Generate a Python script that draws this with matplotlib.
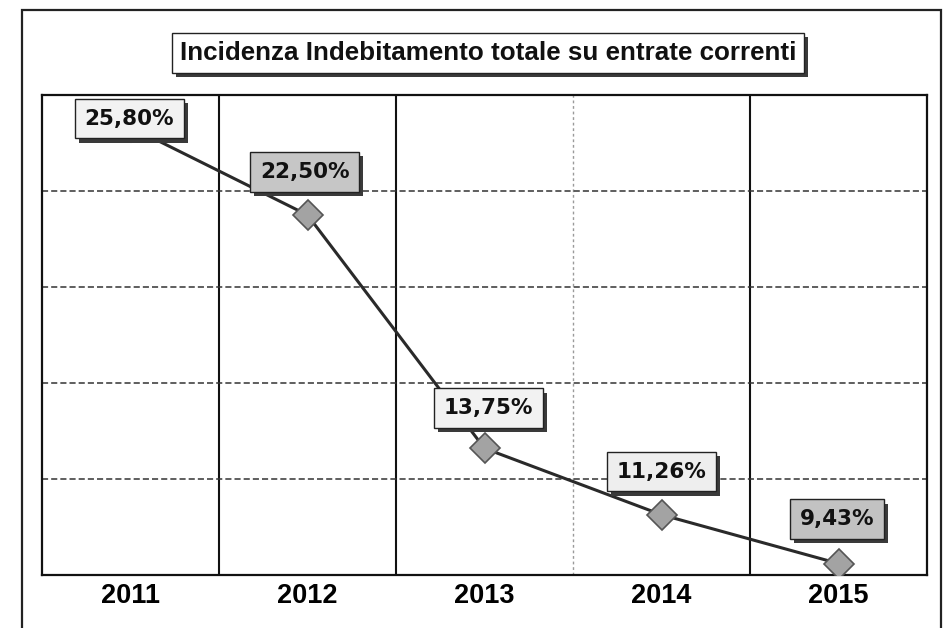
import matplotlib
matplotlib.use("Agg")
import matplotlib.pyplot as plt
import matplotlib.patheffects as pe
from matplotlib.patches import Rectangle
import numpy as np

# data
anni = ["2011", "2012", "2013", "2014", "2015"]
incidenza = [25.80, 22.50, 13.75, 11.26, 9.43]
etichette = ["25,80%", "22,50%", "13,75%", "11,26%", "9,43%"]
titolo = "Incidenza Indebitamento totale su entrate correnti"

narrow = ["Liberation Sans Narrow", "Liberation Sans", "DejaVu Sans"]
ombra = [pe.SimplePatchShadow(offset=(3, -3), shadow_rgbFace="#3a3a3a", alpha=1.0), pe.Normal()]

fig = plt.figure(figsize=(9.47, 6.28), dpi=100)
fig.patch.set_facecolor("white")

# outer frame of the scanned chart
fig.patches.append(Rectangle((22 / 947, -0.02), (941 - 22) / 947, 1 - 10 / 628 + 0.02,
                             transform=fig.transFigure, fill=False,
                             edgecolor="#222222", lw=1.6, zorder=0))

ax = fig.add_axes([42 / 947, (628 - 575) / 628, 885 / 947, 480 / 628])
x = np.arange(len(anni))

ax.set_xlim(-0.5, len(anni) - 0.5)
ax.set_ylim(9, 27)

# grid: solid verticals between categories, dashed horizontals
for i, b in enumerate(np.arange(0.5, len(anni) - 0.5, 1.0)):
    if i == 2:
        ax.axvline(b, color="#9a9a9a", lw=1, ls=(0, (2, 2)), zorder=1)
    else:
        ax.axvline(b, color="#111111", lw=1.5, zorder=1)
for yv in np.arange(9 + 3.6, 27, 3.6):
    ax.axhline(yv, color="#333333", lw=1.1, ls=(0, (4, 2)), zorder=1)

ax.plot(x, incidenza, color="#2a2a2a", lw=2.2, zorder=3,
        marker="D", ms=15, markerfacecolor="#a3a3a3", markeredgecolor="#555555",
        markeredgewidth=1.2)

ax.set_xticks(x)
ax.set_xticklabels(anni, family=narrow, fontweight="bold", fontsize=19.5)
ax.tick_params(axis="x", length=0, pad=6)
ax.set_yticks([])
for s in ax.spines.values():
    s.set_color("#111111")
    s.set_linewidth(1.6)

# data labels, boxed with a drop shadow
offsets = [(-1, 6), (-2, 31), (3, 29), (0, 31), (-1, 32)]
fills = ["#f2f2f2", "#c6c6c6", "#f2f2f2", "#eeeeee", "#c2c2c2"]
for xi, yi, lab, off, fc in zip(x, incidenza, etichette, offsets, fills):
    t = ax.annotate(lab, (xi, yi), xytext=off, textcoords="offset points",
                    ha="center", va="center", fontsize=15.5, fontweight="bold", color="#111111",
                    bbox=dict(boxstyle="square,pad=0.45", fc=fc, ec="#222222", lw=1),
                    zorder=6, annotation_clip=False)
    t.get_bbox_patch().set_path_effects(ombra)

# title box with shadow
tt = fig.text(488 / 947, 1 - 53 / 628, titolo, ha="center", va="center", family=narrow,
              fontweight="bold", fontsize=18.7, color="#111111",
              bbox=dict(boxstyle="square,pad=0.3", fc="white", ec="#222222", lw=1))
tt.get_bbox_patch().set_path_effects(ombra)

fig.savefig("out.png", dpi=100)
